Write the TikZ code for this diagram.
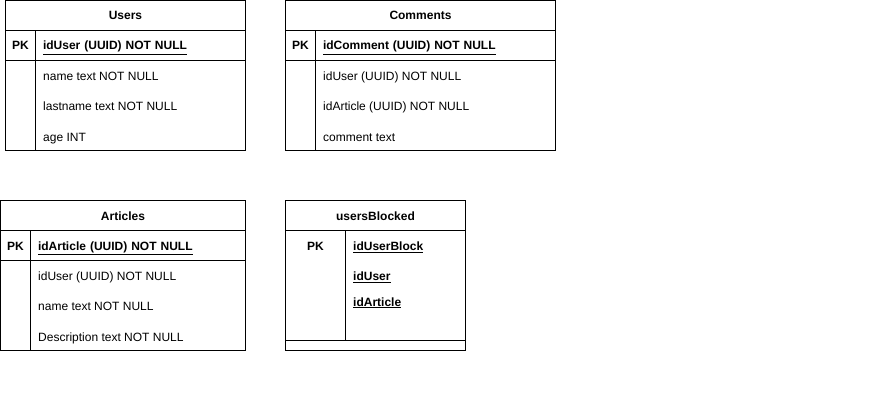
\documentclass[tikz,border=0pt]{standalone}
\usepackage{fontspec}
\setmainfont{Liberation Sans}
\usetikzlibrary{positioning}
\newcommand{\erfont}{\fontsize{12pt}{14pt}\selectfont}
\tikzset
{
    cellbox/.style    = {draw=black, line width=1pt, outer sep=0pt, inner sep=0pt},
    tabletitle/.style = {cellbox, minimum height=30pt, font=\erfont\bfseries, text height=9pt, text depth=0pt},
    pkcell/.style     = {cellbox, minimum height=30pt, font=\erfont\bfseries, text height=9pt, text depth=0pt},
    keyfield/.style   = {cellbox, minimum height=30pt, inner xsep=7.5pt, align=left, font=\erfont\bfseries, text height=9pt, text depth=0pt},
    field/.style      = {inner sep=0pt, font=\erfont, text height=9pt, text depth=0pt},
    keyname/.style    = {field, font=\erfont\bfseries}
}
\begin{document}
\begin{tikzpicture}[x=1pt, y=1pt]
	\useasboundingbox (0,0) rectangle (886,-412);
	% Users
	\node[tabletitle, minimum width=240pt, anchor=north west] (users) at (5.5,-0.5) {Users};
	\node[pkcell, minimum width=30pt, below right=0pt and 0pt of users.south west] (usersPK) {PK};
	\node[keyfield, minimum width=210pt, text width=195pt, right=0pt of usersPK] (usersKey) {\underline{idUser (UUID) NOT NULL}};
	\node[cellbox, minimum width=30pt, minimum height=90pt, below=0pt of usersPK] (usersGap) {};
	\node[cellbox, minimum width=210pt, minimum height=90pt, below=0pt of usersKey] (usersBody) {};
	\node[field, below right=10.5pt and 7.5pt of usersBody.north west] (usersName) {name text NOT NULL};
	\node[field, below right=21pt and 0pt of usersName.south west] (usersLastname) {lastname text NOT NULL};
	\node[field, below right=21pt and 0pt of usersLastname.south west] (usersAge) {age INT};
	% Comments
	\node[tabletitle, minimum width=270pt, anchor=north west] (comments) at (285.5,-0.5) {Comments};
	\node[pkcell, minimum width=30pt, below right=0pt and 0pt of comments.south west] (commentsPK) {PK};
	\node[keyfield, minimum width=240pt, text width=225pt, right=0pt of commentsPK] (commentsKey) {\underline{idComment (UUID) NOT NULL}};
	\node[cellbox, minimum width=30pt, minimum height=90pt, below=0pt of commentsPK] (commentsGap) {};
	\node[cellbox, minimum width=240pt, minimum height=90pt, below=0pt of commentsKey] (commentsBody) {};
	\node[field, below right=10.5pt and 7.5pt of commentsBody.north west] (commentsUser) {idUser (UUID) NOT NULL};
	\node[field, below right=21pt and 0pt of commentsUser.south west] (commentsArticle) {idArticle (UUID) NOT NULL};
	\node[field, below right=21pt and 0pt of commentsArticle.south west] (commentsText) {comment text};
	% Articles
	\node[tabletitle, minimum width=245pt, anchor=north west] (articles) at (0.5,-200.5) {Articles};
	\node[pkcell, minimum width=30pt, below right=0pt and 0pt of articles.south west] (articlesPK) {PK};
	\node[keyfield, minimum width=215pt, text width=200pt, right=0pt of articlesPK] (articlesKey) {\underline{idArticle (UUID) NOT NULL}};
	\node[cellbox, minimum width=30pt, minimum height=90pt, below=0pt of articlesPK] (articlesGap) {};
	\node[cellbox, minimum width=215pt, minimum height=90pt, below=0pt of articlesKey] (articlesBody) {};
	\node[field, below right=10.5pt and 7.5pt of articlesBody.north west] (articlesUser) {idUser (UUID) NOT NULL};
	\node[field, below right=21pt and 0pt of articlesUser.south west] (articlesName) {name text NOT NULL};
	\node[field, below right=21pt and 0pt of articlesName.south west] (articlesDesc) {Description text NOT NULL};
	% usersBlocked
	\node[tabletitle, minimum width=180pt, anchor=north west] (blocked) at (285.5,-200.5) {usersBlocked};
	\node[cellbox, minimum width=60pt, minimum height=110pt, below right=0pt and 0pt of blocked.south west] (blockedGap) {};
	\node[cellbox, minimum width=120pt, minimum height=110pt, right=0pt of blockedGap] (blockedBody) {};
	\node[cellbox, minimum width=180pt, minimum height=10pt, below right=0pt and 0pt of blockedGap.south west] (blockedFoot) {};
	\node[keyname, below=10.5pt of blockedGap.north] (blockedPK) {PK};
	\node[keyname, below right=10.5pt and 7.5pt of blockedBody.north west] (blockedId) {\underline{idUserBlock}};
	\node[keyname, below right=21pt and 0pt of blockedId.south west] (blockedUser) {\underline{idUser}};
	\node[keyname, below right=16pt and 0pt of blockedUser.south west] (blockedArticle) {\underline{idArticle}};
\end{tikzpicture}
\end{document}
